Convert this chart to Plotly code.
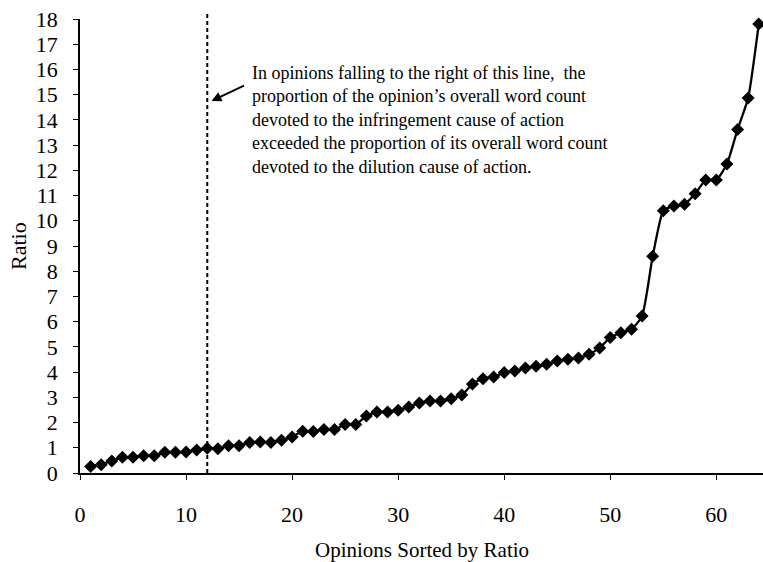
import plotly.graph_objects as go

opinion_rank = list(range(1, 65))
ratio_values = [
    0.26, 0.33, 0.48, 0.62, 0.62, 0.68, 0.68, 0.82, 0.82, 0.83,
    0.91, 0.98, 0.96, 1.08, 1.08, 1.21, 1.23, 1.21, 1.30, 1.43,
    1.66, 1.65, 1.72, 1.72, 1.92, 1.92, 2.26, 2.42, 2.42, 2.49,
    2.62, 2.78, 2.85, 2.85, 2.94, 3.09, 3.53, 3.74, 3.81, 3.98,
    4.04, 4.16, 4.23, 4.31, 4.44, 4.51, 4.56, 4.71, 4.96, 5.37,
    5.56, 5.70, 6.22, 8.59, 10.40, 10.59, 10.66, 11.07, 11.62, 11.62,
    12.25, 13.62, 14.87, 17.80,
]
x_ticks = [0, 10, 20, 30, 40, 50, 60]
y_ticks = list(range(0, 19))
cutoff_rank = 12

note_lines = [
    "In opinions falling to the right of this line,  the",
    "proportion of the opinion\u2019s overall word count",
    "devoted to the infringement cause of action",
    "exceeded the proportion of its overall word count",
    "devoted to the dilution cause of action.",
]

serif = "Liberation Serif, Times New Roman, serif"

fig = go.Figure()
fig.add_trace(go.Scatter(
    x=opinion_rank, y=ratio_values, mode="lines+markers",
    line=dict(color="black", width=2.3, shape="spline", smoothing=0.5),
    marker=dict(symbol="diamond", size=10, color="black"),
    showlegend=False, hoverinfo="x+y", cliponaxis=False,
))

fig.add_shape(type="line", xref="x", yref="paper", x0=cutoff_rank, x1=cutoff_rank,
              y0=0, y1=1.017, line=dict(color="black", width=2, dash="4px,3px"))

fig.add_annotation(x=12.4, y=14.75, xref="x", yref="y", text="", showarrow=True,
                   ax=34, ay=-16, arrowhead=2, arrowsize=1.1, arrowwidth=1.8,
                   arrowcolor="black")

fig.add_annotation(x=16.05, y=16.35, xref="x", yref="y", xanchor="left", yanchor="top",
                   text="<br>".join(note_lines), showarrow=False, align="left",
                   font=dict(family=serif, size=18, color="black"))

fig.add_annotation(x=0, y=0.5, xref="paper", yref="paper", text="Ratio",
                   textangle=-90, showarrow=False, xanchor="center", yanchor="middle",
                   xshift=-62, font=dict(family=serif, size=22, color="black"))

fig.add_annotation(x=0.5, y=0, xref="paper", yref="paper", text="Opinions Sorted by Ratio",
                   showarrow=False, xanchor="center", yanchor="middle",
                   yshift=-77, font=dict(family=serif, size=21, color="black"))

fig.update_layout(
    width=763, height=562,
    margin=dict(l=80, r=0, t=19, b=89, autoexpand=False),
    paper_bgcolor="white", plot_bgcolor="white",
    font=dict(family=serif, color="black", size=22),
    xaxis=dict(range=[0, 64.4], tickvals=x_ticks, showgrid=False, zeroline=False,
               showline=True, linecolor="black", linewidth=1.5,
               ticks="outside", ticklen=5, tickcolor="black", automargin=False,
               ticklabelstandoff=16, tickfont=dict(size=22), ticklabeloverflow="allow"),
    yaxis=dict(range=[0, 18], tickvals=y_ticks, showgrid=False, zeroline=False,
               showline=True, linecolor="black", linewidth=1.5,
               ticks="outside", ticklen=5, tickcolor="black", automargin=False,
               ticklabelstandoff=11, tickfont=dict(size=22), ticklabeloverflow="allow"),
)

fig.write_html(
    "out.html",
    config={"displayModeBar": False},
    post_script="document.body.style.margin='0px';document.body.style.overflow='hidden';",
)
